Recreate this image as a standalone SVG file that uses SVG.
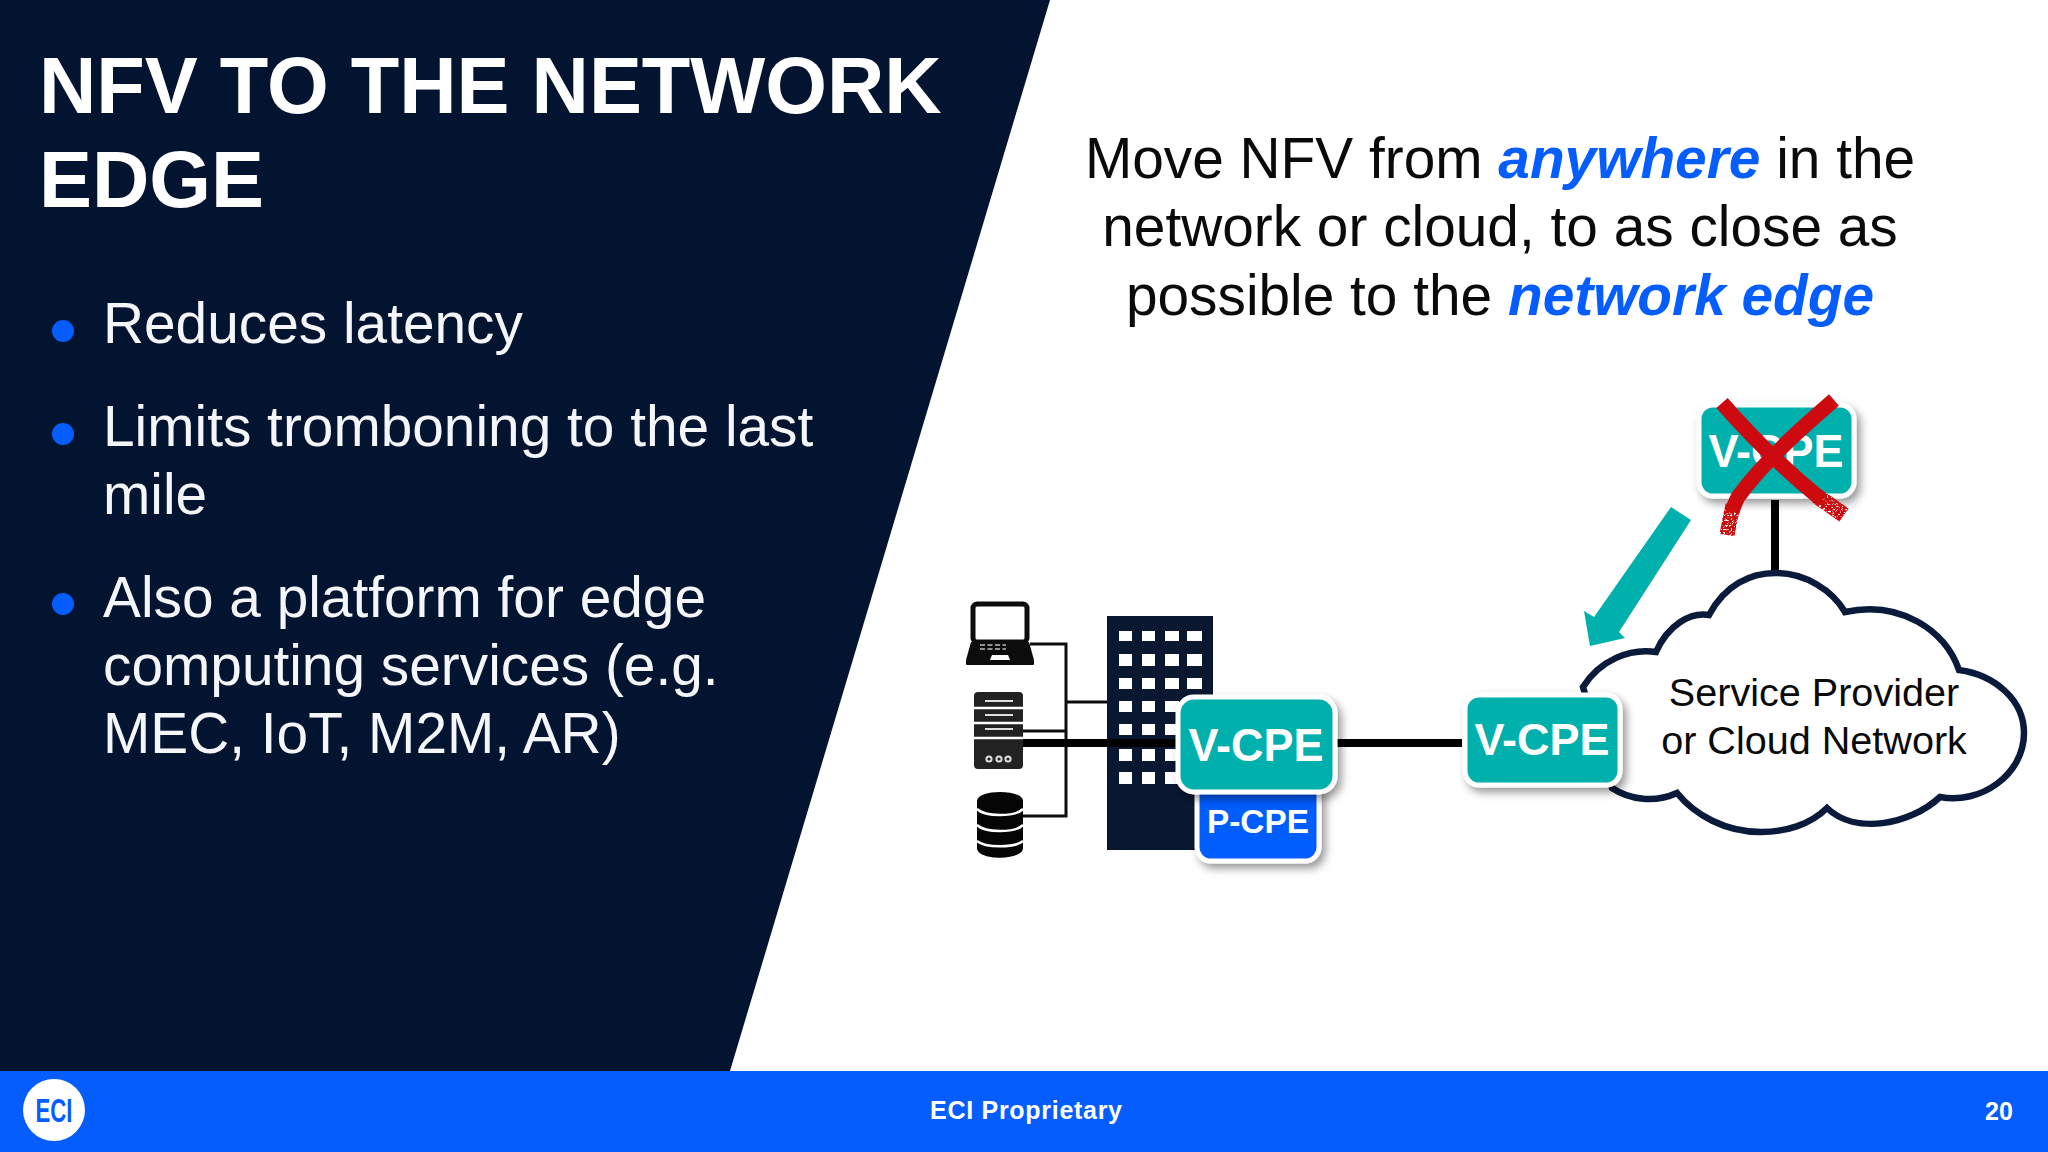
<svg xmlns="http://www.w3.org/2000/svg" width="2048" height="1152" viewBox="0 0 2048 1152">
<defs>
<style>
text{font-family:"Liberation Sans",Arial,sans-serif}
.title{font-size:79.4px;font-weight:700;fill:#fff}
.body{font-size:56.8px;fill:#f4f6fa}
.head{font-size:56.8px;fill:#0a0a0a;text-anchor:middle}
.em{font-weight:700;font-style:italic;fill:#055dfe}
.box{stroke:#fff;stroke-width:5;filter:url(#sh)}
.teal{fill:#00b0ad}
.blue{fill:#055dfe}
.cpe{font-weight:700;fill:#fff;text-anchor:middle}
.thin{stroke:#0c0c0c;stroke-width:3;fill:none}
.thick{stroke:#000;stroke-width:8;fill:none}
.win{fill:#fff}
.cloudt{font-size:39.6px;fill:#0a0a0a;text-anchor:middle}
.foot{font-weight:700;fill:#fff;font-size:25px}
.sep{stroke:#fff;stroke-width:2.5;fill:none}
</style>
<filter id="sh" x="-20%" y="-20%" width="150%" height="150%"><feDropShadow dx="4" dy="5" stdDeviation="4" flood-color="#000" flood-opacity=".4"/></filter>
<filter id="speck" x="-20%" y="-20%" width="140%" height="140%">
<feTurbulence type="fractalNoise" baseFrequency=".55" numOctaves="2" seed="4" result="n"/>
<feColorMatrix in="n" type="matrix" values="0 0 0 0 0 0 0 0 0 0 0 0 0 0 0 0 0 0 9 -3" result="m"/>
<feComposite in="SourceGraphic" in2="m" operator="in"/>
</filter>
</defs>
<rect width="2048" height="1152" fill="#fff"/>
<polygon points="0,0 1050,0 730,1071 0,1071" fill="#031431"/>
<rect y="1071" width="2048" height="81" fill="#055dfe"/>

<g id="title">
<text class="title" x="39" y="113">NFV TO THE NETWORK</text>
<text class="title" x="39" y="207">EDGE</text>
</g>
<g id="bullets">
<circle cx="63" cy="331" r="11" fill="#055dfe"/>
<circle cx="63" cy="434" r="11" fill="#055dfe"/>
<circle cx="63" cy="604" r="11" fill="#055dfe"/>
<text class="body" x="103" y="343">Reduces latency</text>
<text class="body" x="103" y="446">Limits tromboning to the last</text>
<text class="body" x="103" y="514">mile</text>
<text class="body" x="103" y="617">Also a platform for edge</text>
<text class="body" x="103" y="685">computing services (e.g.</text>
<text class="body" x="103" y="753">MEC, IoT, M2M, AR)</text>
</g>
<g id="heading">
<text class="head" x="1500" y="178">Move NFV from <tspan class="em">anywhere</tspan> in the</text>
<text class="head" x="1500" y="246">network or cloud, to as close as</text>
<text class="head" x="1500" y="315">possible to the <tspan class="em">network edge</tspan></text>
</g>

<g id="connectors">
<path class="thin" d="M1030 644H1066V816H1023M1066 702H1108M1023 731H1066"/>
<path class="thick" d="M1023 743H1178M1337 743H1462"/>
<path d="M1775 500V575" stroke="#000" stroke-width="8" fill="none"/>
<polygon points="1671,507 1691,520 1619,632 1625,638 1590,646 1584,611 1594,617" fill="#00b0ad"/>
</g>

<g id="laptop">
<rect x="973" y="604" width="54" height="38" rx="4" fill="#fff" stroke="#0c0c0c" stroke-width="5"/>
<polygon points="971,642 1029,642 1034,660 966,660" fill="#0c0c0c"/>
<rect x="966" y="660" width="68" height="5" rx="1" fill="#0c0c0c"/>
<path d="M980 645h26M980 649h26" stroke="#bbb" stroke-width="1.6" stroke-dasharray="5 2.5"/>
<polygon points="992,655 1008,655 1010,660 990,660" fill="#fff"/>
</g>
<g id="server">
<rect x="974" y="692" width="49" height="77" rx="4" fill="#222"/>
<path class="sep" d="M974 708H1023M974 723H1023M974 738H1023"/>
<path d="M985 701H1013M985 715H1013M985 729H1013" stroke="#ddd" stroke-width="2"/>
<g fill="none" stroke="#ddd" stroke-width="2"><circle cx="989" cy="759" r="2.6"/><circle cx="999" cy="759" r="2.6"/><circle cx="1008" cy="759" r="2.6"/></g>
</g>
<g id="database">
<path d="M977 801C977 789 1023 789 1023 801V848C1023 861 977 861 977 848Z" fill="#050505"/>
<path class="sep" d="M977 809C985 817 1015 817 1023 809M977 825C985 833 1015 833 1023 825M977 841C985 848 1015 848 1023 841"/>
</g>
<g id="building">
<rect x="1107" y="616" width="106" height="234" fill="#0a1730"/>
<g class="win">
<rect x="1119" y="631" width="13" height="10"/><rect x="1142" y="631" width="13" height="10"/><rect x="1165" y="631" width="14" height="10"/><rect x="1187" y="631" width="15" height="10"/>
<rect x="1119" y="654" width="13" height="12"/><rect x="1142" y="654" width="13" height="12"/><rect x="1165" y="654" width="14" height="12"/><rect x="1187" y="654" width="15" height="12"/>
<rect x="1119" y="678" width="13" height="11"/><rect x="1142" y="678" width="13" height="11"/><rect x="1165" y="678" width="14" height="11"/><rect x="1187" y="678" width="15" height="11"/>
<rect x="1119" y="701" width="13" height="11"/><rect x="1142" y="701" width="13" height="11"/><rect x="1165" y="701" width="14" height="11"/>
<rect x="1119" y="724" width="13" height="11"/><rect x="1142" y="724" width="13" height="11"/><rect x="1165" y="724" width="14" height="11"/>
<rect x="1119" y="749" width="13" height="12"/><rect x="1142" y="749" width="13" height="12"/><rect x="1165" y="749" width="14" height="12"/>
<rect x="1119" y="772" width="13" height="12"/><rect x="1142" y="772" width="13" height="12"/><rect x="1165" y="772" width="14" height="12"/>
</g>
<path d="M1066 743H1178" stroke="#000" stroke-width="8"/>
</g>
<g id="p-cpe">
<rect class="box blue" x="1197" y="780" width="122" height="81" rx="14"/>
<text class="cpe" x="1258" y="833" font-size="34" textLength="102" lengthAdjust="spacingAndGlyphs">P-CPE</text>
</g>
<g id="v-cpe-edge">
<rect class="box teal" x="1178" y="697" width="157" height="95" rx="16"/>
<text class="cpe" x="1256" y="761" font-size="46" textLength="135" lengthAdjust="spacingAndGlyphs">V-CPE</text>
</g>
<g id="cloud">
<path d="M1583 687C1600 660 1630 648 1656 652C1668 625 1690 612 1709 615C1725 585 1750 573 1776 573C1805 573 1832 590 1845 612C1900 600 1945 630 1959 670C1995 675 2024 700 2024 733C2024 775 1980 805 1940 797C1910 825 1855 835 1827 808C1810 825 1785 832 1761 832C1725 832 1695 815 1677 793C1655 803 1630 800 1612 788Z" fill="#fff" stroke="#0a1a3a" stroke-width="6.5"/>
<text class="cloudt" x="1814" y="706">Service Provider</text>
<text class="cloudt" x="1814" y="754">or Cloud Network</text>
</g>
<g id="v-cpe-mid">
<rect class="box teal" x="1465" y="695" width="155" height="90" rx="14"/>
<text class="cpe" x="1542" y="755" font-size="44" textLength="135" lengthAdjust="spacingAndGlyphs">V-CPE</text>
</g>
<g id="v-cpe-top">
<rect class="box teal" x="1699" y="405" width="155" height="91" rx="14"/>
<text class="cpe" x="1776" y="467" font-size="46" textLength="135" lengthAdjust="spacingAndGlyphs">V-CPE</text>
</g>
<g id="cross" fill="none" stroke="#cc0a10" stroke-width="15">
<path d="M1722 403C1750 435 1785 470 1822 500"/>
<path d="M1834 400C1805 425 1765 460 1738 497C1735 503 1733 508 1732 512"/>
<g filter="url(#speck)">
<path d="M1817 496L1844 515" stroke-width="16"/>
<path d="M1733 505C1731 515 1729 524 1727 535" stroke-width="15"/>
</g>
</g>
<g id="footer">
<circle cx="54" cy="1110" r="31" fill="#fff"/>
<text x="54" y="1122" font-size="33" font-weight="700" fill="#055dfe" text-anchor="middle" textLength="37" lengthAdjust="spacingAndGlyphs">ECI</text>
<text class="foot" x="1026" y="1119" text-anchor="middle" textLength="192">ECI Proprietary</text>
<text class="foot" x="1999" y="1120" text-anchor="middle">20</text>
</g>
</svg>
